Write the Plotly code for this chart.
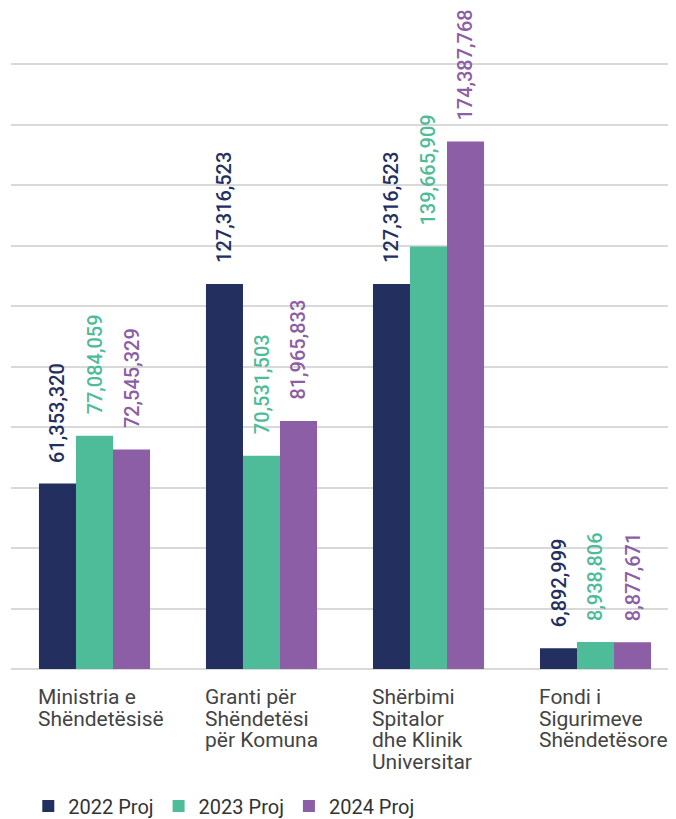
import plotly.graph_objects as go

categories = ["Ministria e Shëndetësisë", "Granti për Shëndetësi për Komuna",
              "Shërbimi Spitalor dhe Klinik Universitar", "Fondi i Sigurimeve Shëndetësore"]
category_lines = [["Ministria e", "Shëndetësisë"],
                  ["Granti për", "Shëndetësi", "për Komuna"],
                  ["Shërbimi", "Spitalor", "dhe Klinik", "Universitar"],
                  ["Fondi i", "Sigurimeve", "Shëndetësore"]]
series_names = ["2022 Proj", "2023 Proj", "2024 Proj"]
values_2022 = [61353320, 127316523, 127316523, 6892999]
values_2023 = [77084059, 70531503, 139665909, 8938806]
values_2024 = [72545329, 81965833, 174387768, 8877671]
colors = ["#23305F", "#4FBC99", "#8C5EA5"]

all_values = [values_2022, values_2023, values_2024]
bargap = 0.335
barw = (1 - bargap) / 3
FONT = "Roboto"

fig = go.Figure()
xs = list(range(len(categories)))
for name, vals, col in zip(series_names, all_values, colors):
    fig.add_trace(go.Bar(x=xs, y=vals, name=name, marker=dict(color=col, line=dict(width=0)),
                         hoverinfo="y+name"))

annotations = []
for j, (vals, col) in enumerate(zip(all_values, colors)):
    for i, v in enumerate(vals):
        annotations.append(dict(x=i + (j - 1) * barw, y=v, xref="x", yref="y",
                                text=f"{v:,}", textangle=-90, showarrow=False,
                                xanchor="center", yanchor="bottom", yshift=19,
                                font=dict(family=FONT, size=20, color=col, weight=500)))
for i, lines in enumerate(category_lines):
    for k, line in enumerate(lines):
        annotations.append(dict(x=i - (1 - bargap) / 2, y=0, xref="x", yref="paper",
                                text=line, showarrow=False, xanchor="left", yanchor="top",
                                xshift=-2, yshift=-(15 + k * 21.5), borderpad=0,
                                font=dict(family=FONT, size=21, color="#444444")))

fig.update_layout(
    width=668, height=811,
    margin=dict(l=3, r=0, t=41, b=150),
    paper_bgcolor="white", plot_bgcolor="white",
    barmode="group", bargap=bargap, bargroupgap=0,
    font=dict(family=FONT, color="#444444"),
    xaxis=dict(range=[-0.5, 3.482], showticklabels=False, showgrid=False, zeroline=False,
               showline=False, ticks=""),
    yaxis=dict(range=[0, 205000000], dtick=20000000, showticklabels=False, showgrid=True,
               gridcolor="#D9D9D9", gridwidth=2, zeroline=True, zerolinecolor="#D9D9D9",
               zerolinewidth=2, ticks=""),
    legend=dict(orientation="h", x=0.026, xanchor="left", yref="container", y=0.016,
                yanchor="middle", font=dict(family=FONT, size=20, color="#333333"),
                itemwidth=30, traceorder="normal"),
    annotations=annotations,
    showlegend=True,
)

fig.write_html("out.html")
